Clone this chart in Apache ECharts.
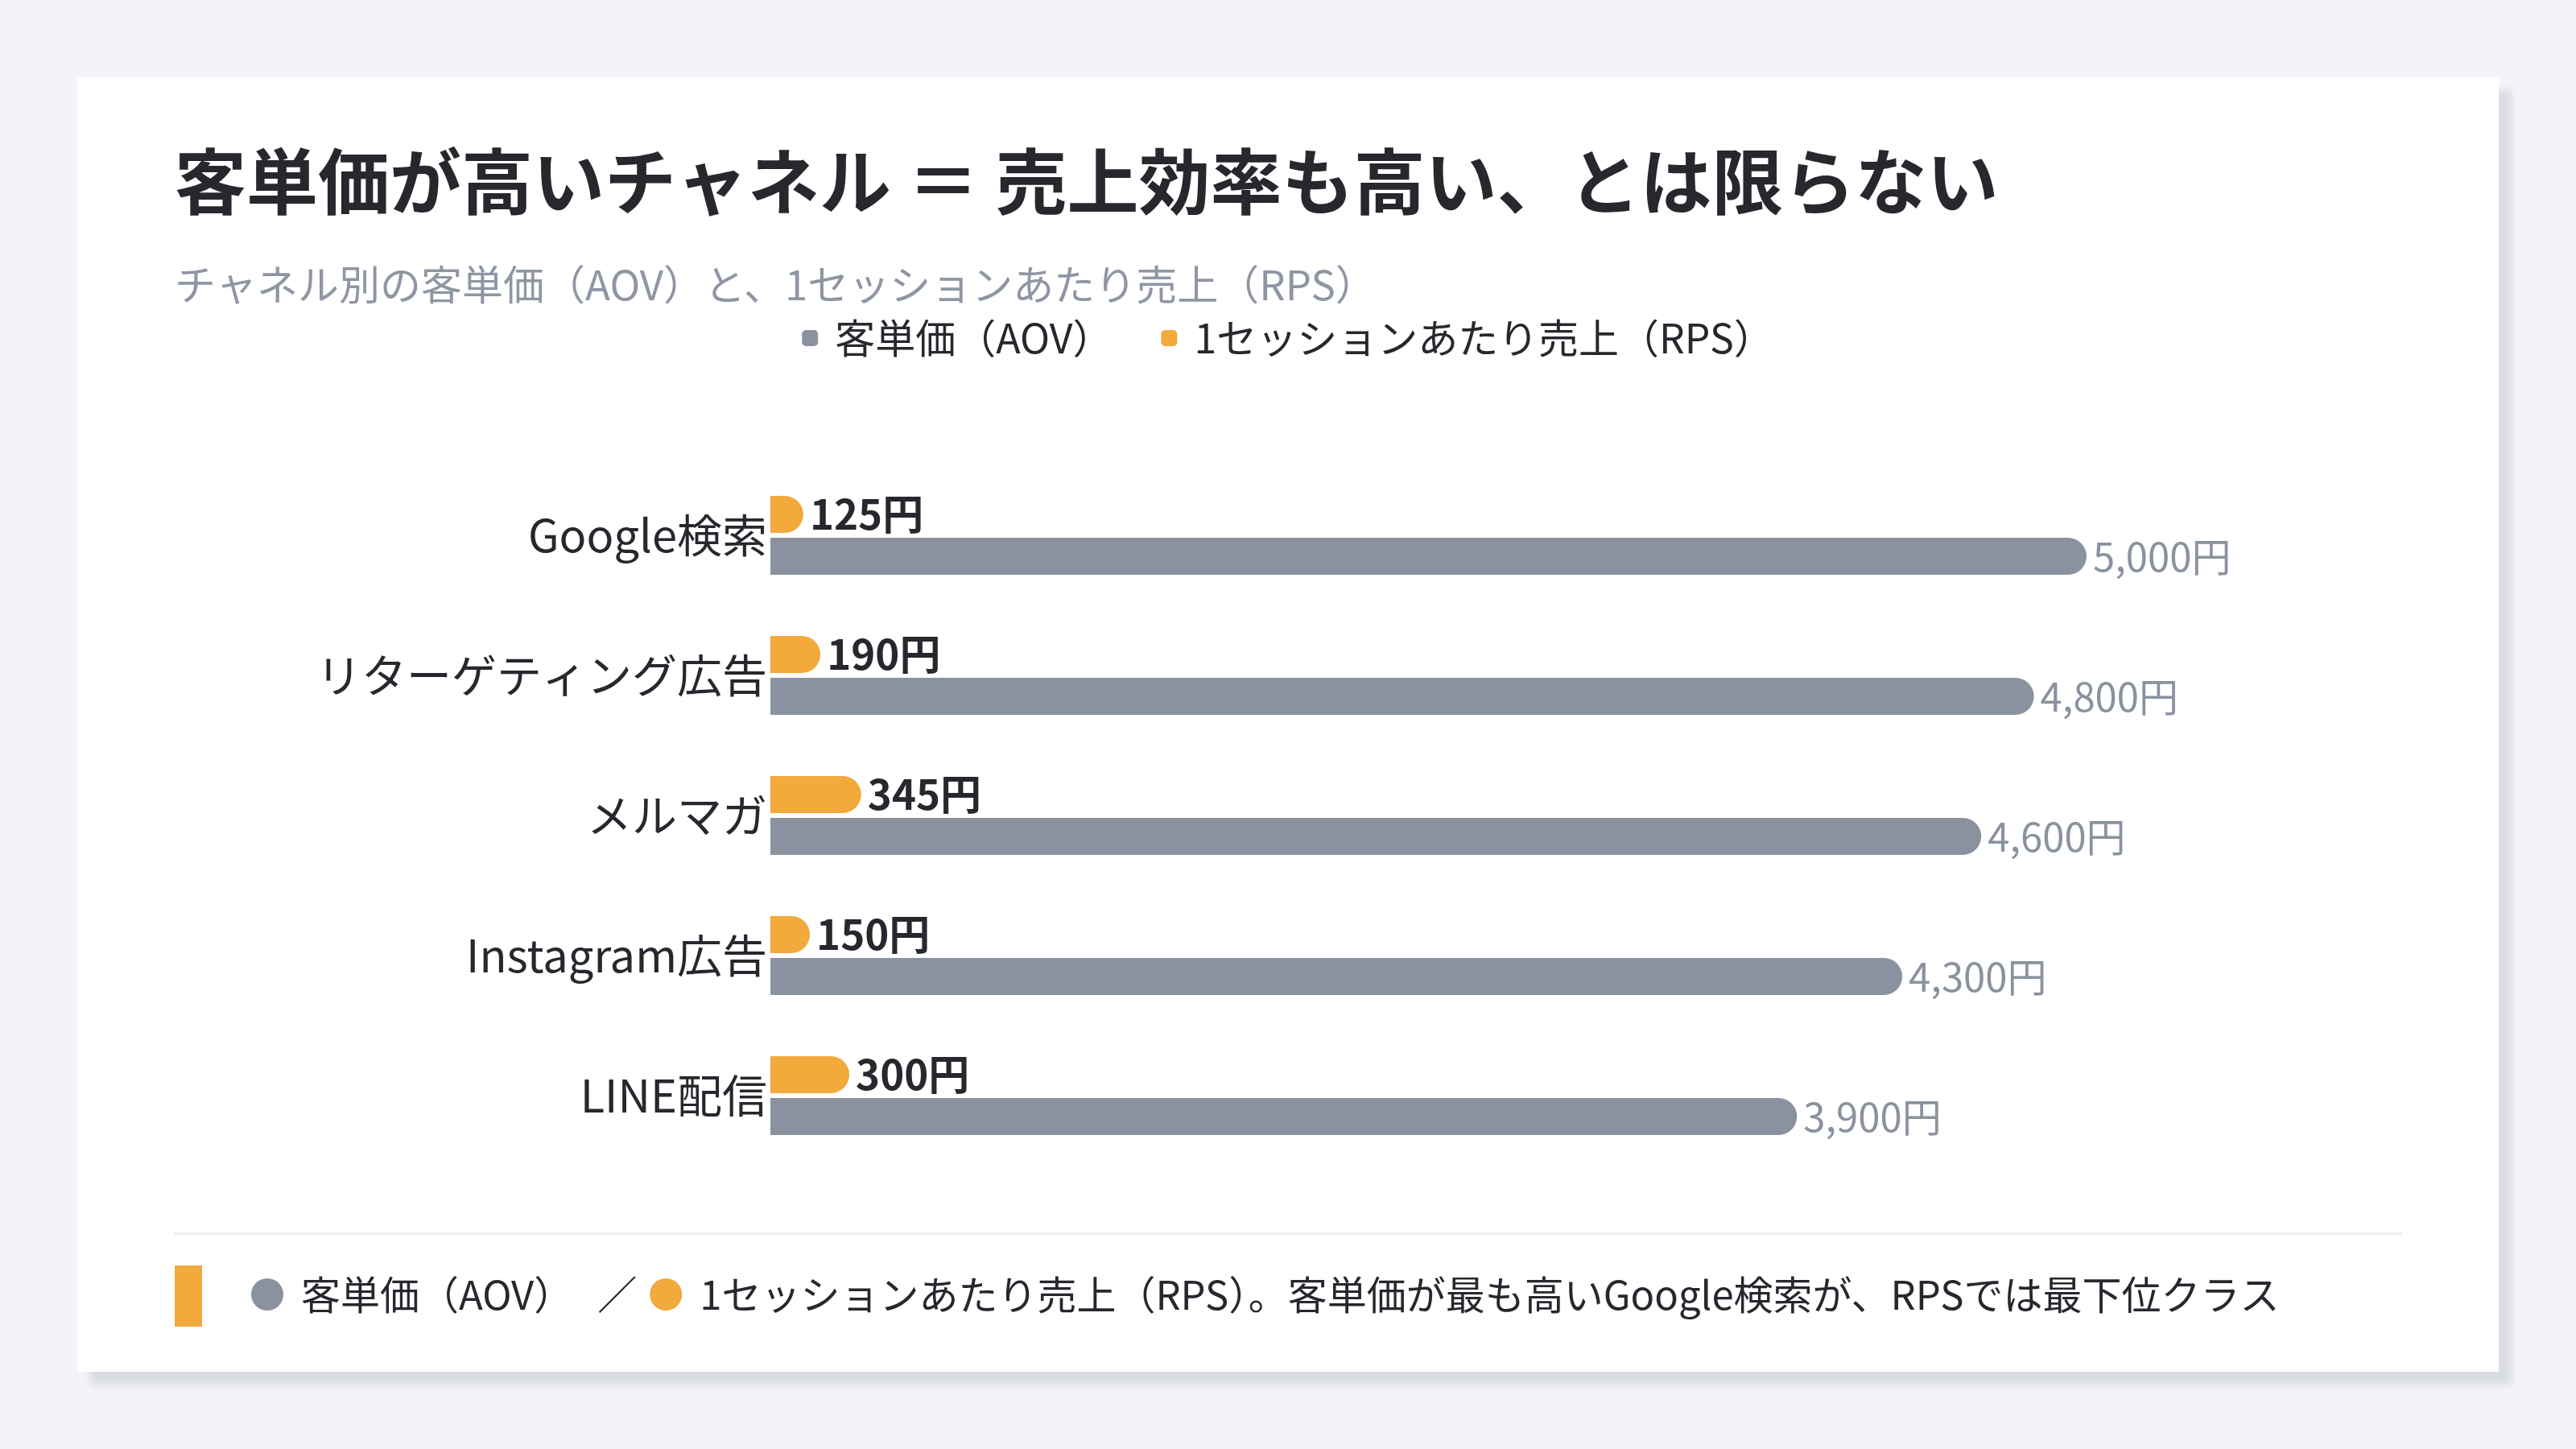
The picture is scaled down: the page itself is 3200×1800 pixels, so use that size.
<!DOCTYPE html>
<html>
<head>
<meta charset="utf-8">
<script src="https://cdn.jsdelivr.net/npm/echarts@6/dist/echarts.min.js"></script>
<style>
  html, body { margin: 0; padding: 0; background: #f3f4f8; }
  #chart { width: 3200px; height: 1800px; }
</style>
</head>
<body>
<div id="chart"></div>
<script>
// チャネル別データ
var channels = ['Google検索', 'リターゲティング広告', 'メルマガ', 'Instagram広告', 'LINE配信'];
var aovValues = [5000, 4800, 4600, 4300, 3900];
var rpsValues = [125, 190, 345, 150, 300];
var aovName = '客単価（AOV）';
var rpsName = '1セッションあたり売上（RPS）';

var FONT = '"Noto Sans CJK JP", "Noto Sans", sans-serif';
var GRAY = '#8a929f';
var ORANGE = '#f1aa3b';
var DARK = '#26282e';

function yen(v) {
    return v.toLocaleString('en-US') + '円';
}

var myChart = echarts.init(document.getElementById('chart'));
var option = {
    backgroundColor: '#f3f4f8',
    textStyle: { fontFamily: FONT },
    title: {
        text: '客単価が高いチャネル ＝ 売上効率も高い、とは限らない',
        subtext: 'チャネル別の客単価（AOV）と、1セッションあたり売上（RPS）',
        left: 212,
        top: 174,
        itemGap: 56,
        textStyle: {
            fontFamily: FONT,
            fontSize: 89,
            fontWeight: 'bold',
            color: DARK,
            lineHeight: 92
        },
        subtextStyle: {
            fontFamily: FONT,
            fontSize: 51,
            color: '#8f96a3',
            lineHeight: 54
        }
    },
    legend: {
        data: [aovName, rpsName],
        left: 'center',
        top: 390,
        icon: 'roundRect',
        itemWidth: 20,
        itemHeight: 20,
        itemGap: 60,
        textStyle: {
            fontFamily: FONT,
            fontSize: 50,
            color: DARK,
            padding: [0, 0, 0, 16]
        }
    },
    grid: {
        left: 957,
        width: 1962,
        top: 578,
        height: 870,
        containLabel: false
    },
    xAxis: {
        type: 'value',
        min: 0,
        max: 6000,
        show: false
    },
    yAxis: {
        type: 'category',
        data: channels,
        inverse: true,
        axisLine: { show: false },
        axisTick: { show: false },
        axisLabel: {
            fontFamily: FONT,
            fontSize: 56,
            color: DARK,
            margin: 4
        }
    },
    series: [
        {
            name: rpsName,
            type: 'bar',
            data: rpsValues,
            barWidth: 46,
            barGap: '13%',
            itemStyle: { color: ORANGE, borderRadius: [0, 23, 23, 0] },
            label: {
                show: true,
                position: 'right',
                distance: 8,
                fontFamily: FONT,
                fontSize: 51,
                fontWeight: 'bold',
                color: DARK,
                formatter: function (p) { return yen(p.value); }
            }
        },
        {
            name: aovName,
            type: 'bar',
            data: aovValues,
            barWidth: 46,
            barGap: '13%',
            itemStyle: { color: GRAY, borderRadius: [0, 23, 23, 0] },
            label: {
                show: true,
                position: 'right',
                distance: 8,
                fontFamily: FONT,
                fontSize: 49,
                color: GRAY,
                formatter: function (p) { return yen(p.value); }
            }
        }
    ],
    graphic: [
        {
            type: 'rect',
            z: -10,
            shape: { x: 96, y: 96, width: 3008, height: 1608 },
            style: {
                fill: '#ffffff',
                shadowColor: 'rgba(40,50,80,0.12)',
                shadowBlur: 8,
                shadowOffsetX: 16,
                shadowOffsetY: 16
            }
        },
        {
            type: 'rect',
            z: -5,
            shape: { x: 216, y: 1531, width: 2768, height: 3 },
            style: { fill: '#eceef2' }
        },
        {
            type: 'rect',
            shape: { x: 217, y: 1572, width: 34, height: 76 },
            style: { fill: ORANGE }
        },
        {
            type: 'text',
            x: 312,
            y: 1608,
            style: {
                text: '{g|}{t|' + aovName + '}{s|／}{o|}{t|' + rpsName + '。客単価が最も高いGoogle検索が、RPSでは最下位クラス}',
                verticalAlign: 'middle',
                rich: {
                    g: { width: 40, height: 40, borderRadius: 20, backgroundColor: GRAY },
                    o: { width: 40, height: 40, borderRadius: 20, backgroundColor: ORANGE },
                    t: { fontFamily: FONT, fontSize: 49, fill: DARK, padding: [0, 0, 0, 22] },
                    s: { fontFamily: FONT, fontSize: 49, fill: DARK, padding: [0, 16, 0, 30] }
                }
            }
        }
    ]
};
myChart.setOption(option);
</script>
</body>
</html>
